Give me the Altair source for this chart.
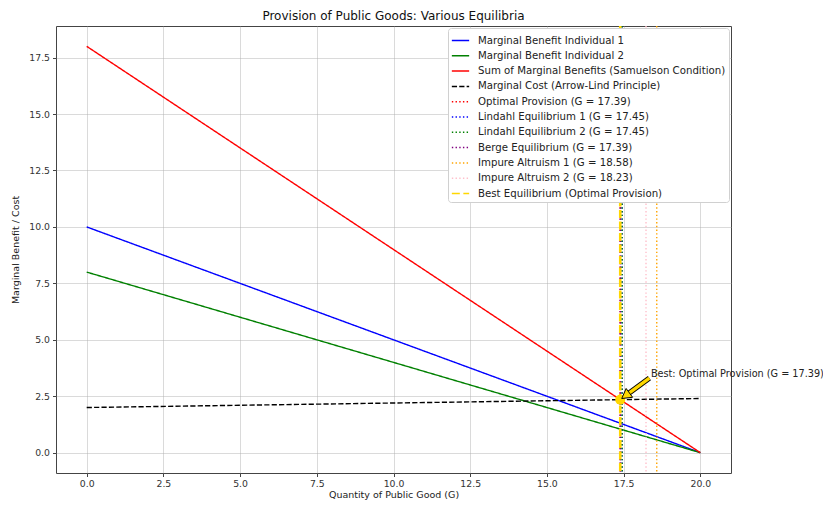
import altair as alt
import pandas as pd

# ---- data ----
G_ends = [0.0, 20.0]
mb1 = [10.0, 0.0]
mb2 = [8.0, 0.0]
mb_sum = [18.0, 0.0]
mc = [2.0, 2.4]

line_names = [
    "Marginal Benefit Individual 1",
    "Marginal Benefit Individual 2",
    "Sum of Marginal Benefits (Samuelson Condition)",
    "Marginal Cost (Arrow-Lind Principle)",
]
eq_names = [
    "Optimal Provision (G = 17.39)",
    "Lindahl Equilibrium 1 (G = 17.45)",
    "Lindahl Equilibrium 2 (G = 17.45)",
    "Berge Equilibrium (G = 17.39)",
    "Impure Altruism 1 (G = 18.58)",
    "Impure Altruism 2 (G = 18.23)",
    "Best Equilibrium (Optimal Provision)",
]
eq_G = [17.39, 17.45, 17.45, 17.39, 18.58, 18.23, 17.39]

best_G = 17.39
best_cost = 2.35
label_G = 18.39
label_y = 3.35
annot_text = "Best: Optimal Provision (G = 17.39)"

all_names = line_names + eq_names
colors = ["#0000ff", "#008000", "#ff0000", "#000000",
          "#ff0000", "#0000ff", "#008000", "#800080", "#ffa500", "#ffc0cb", "#ffd700"]
solid = [1, 0]
dashed = [5.2, 2.2]
dotted = [1.4, 2.3]
best_dash = [8.0, 3.5]
dashes = [solid, solid, solid, dashed, dotted, dotted, dotted, dotted, dotted, dotted, best_dash]

# ---- tables ----
rows = []
for name, vals in zip(line_names, [mb1, mb2, mb_sum, mc]):
    for g, v in zip(G_ends, vals):
        rows.append({"G": g, "y": v, "series": name})
lines_df = pd.DataFrame(rows)
eq_df = pd.DataFrame({"G": eq_G, "series": eq_names})
best_df = pd.DataFrame({"G": [best_G], "y": [best_cost]})

# arrow (matplotlib shrink=0.05 at both ends)
tail = (label_G + 0.05 * (best_G - label_G), label_y + 0.05 * (best_cost - label_y))
head = (best_G + 0.05 * (label_G - best_G), best_cost + 0.05 * (label_y - best_cost))
tri = (head[0] + 0.137 * (tail[0] - head[0]), head[1] + 0.137 * (tail[1] - head[1]))
shaft_df = pd.DataFrame({"G": [tail[0], tri[0]], "y": [tail[1], tri[1]]})
tri_df = pd.DataFrame({"G": [tri[0]], "y": [tri[1]]})
text_df = pd.DataFrame({"G": [label_G], "y": [label_y], "t": [annot_text]})

FONT = "DejaVu Sans"
xs = alt.Scale(domain=[-1, 21], nice=False, zero=False)
ys = alt.Scale(domain=[-0.9, 18.9], nice=False, zero=False)
color_scale = alt.Scale(domain=all_names, range=colors)
dash_scale = alt.Scale(domain=all_names, range=dashes)

x_axis = alt.Axis(values=[0, 2.5, 5, 7.5, 10, 12.5, 15, 17.5, 20], format=".1f",
                  title="Quantity of Public Good (G)", labelPadding=3, titlePadding=1)
y_axis = alt.Axis(values=[0, 2.5, 5, 7.5, 10, 12.5, 15, 17.5], format=".1f",
                  title="Marginal Benefit / Cost", titlePadding=8)

legend = alt.Legend(title=None, orient="top-right", offset=2,
                    fillColor="white", strokeColor="#d0d0d0", padding=3, cornerRadius=3,
                    symbolType="stroke", symbolSize=300, symbolStrokeWidth=1.5,
                    labelFontSize=10.2, labelFont=FONT, labelColor="#222", labelLimit=400,
                    labelOffset=8, rowPadding=0.3)

base_lines = alt.Chart(lines_df).mark_line(strokeWidth=1.4).encode(
    x=alt.X("G:Q", scale=xs, axis=x_axis),
    y=alt.Y("y:Q", scale=ys, axis=y_axis),
    detail="series:N",
    color=alt.Color("series:N", scale=color_scale, legend=legend),
    strokeDash=alt.StrokeDash("series:N", scale=dash_scale, legend=legend),
)

rules = alt.Chart(eq_df).mark_rule().encode(
    x=alt.X("G:Q", scale=xs),
    color=alt.Color("series:N", scale=color_scale, legend=legend),
    strokeDash=alt.StrokeDash("series:N", scale=dash_scale, legend=legend),
    strokeWidth=alt.condition(alt.datum.series == eq_names[-1], alt.value(2.6), alt.value(1.4)),
)

point = alt.Chart(best_df).mark_point(filled=True, color="#ffd700", size=100, opacity=1).encode(
    x=alt.X("G:Q", scale=xs), y=alt.Y("y:Q", scale=ys))

shaft_edge = alt.Chart(shaft_df).mark_line(color="#000000", strokeWidth=5.2, strokeCap="butt").encode(
    x=alt.X("G:Q", scale=xs), y=alt.Y("y:Q", scale=ys))
shaft = alt.Chart(shaft_df).mark_line(color="#ffd700", strokeWidth=3.4, strokeCap="butt").encode(
    x=alt.X("G:Q", scale=xs), y=alt.Y("y:Q", scale=ys))
arrow_head = alt.Chart(tri_df).mark_point(shape="triangle-up", filled=True, fill="#ffd700",
                                          stroke="#000000", strokeWidth=0.9, size=120,
                                          angle=233.6, opacity=1).encode(
    x=alt.X("G:Q", scale=xs), y=alt.Y("y:Q", scale=ys))

label = alt.Chart(text_df).mark_text(align="left", baseline="alphabetic", font=FONT,
                                     fontSize=9.7, color="#222").encode(
    x=alt.X("G:Q", scale=xs), y=alt.Y("y:Q", scale=ys), text="t:N")

chart = alt.layer(base_lines, rules, point, shaft_edge, shaft, arrow_head, label).properties(
    width=675, height=447,
    title=alt.Title("Provision of Public Goods: Various Equilibria", font=FONT, fontSize=12,
                    fontWeight="normal", color="#111", offset=2),
    autosize=alt.AutoSizeParams(type="none"),
    padding={"left": 48, "top": 18, "right": 92, "bottom": 27},
).configure_view(stroke="#444", strokeWidth=1).configure_axis(
    labelFont=FONT, titleFont=FONT, labelFontSize=9.3, titleFontSize=9.5,
    titleFontWeight="normal", labelColor="#333", titleColor="#222",
    grid=True, gridColor="#b0b0b0", gridOpacity=0.6, gridWidth=0.8,
    tickColor="#444", tickSize=3.5, labelPadding=3, domain=False,
)

chart.save("out.html", embed_options={"renderer": "svg", "actions": False})
